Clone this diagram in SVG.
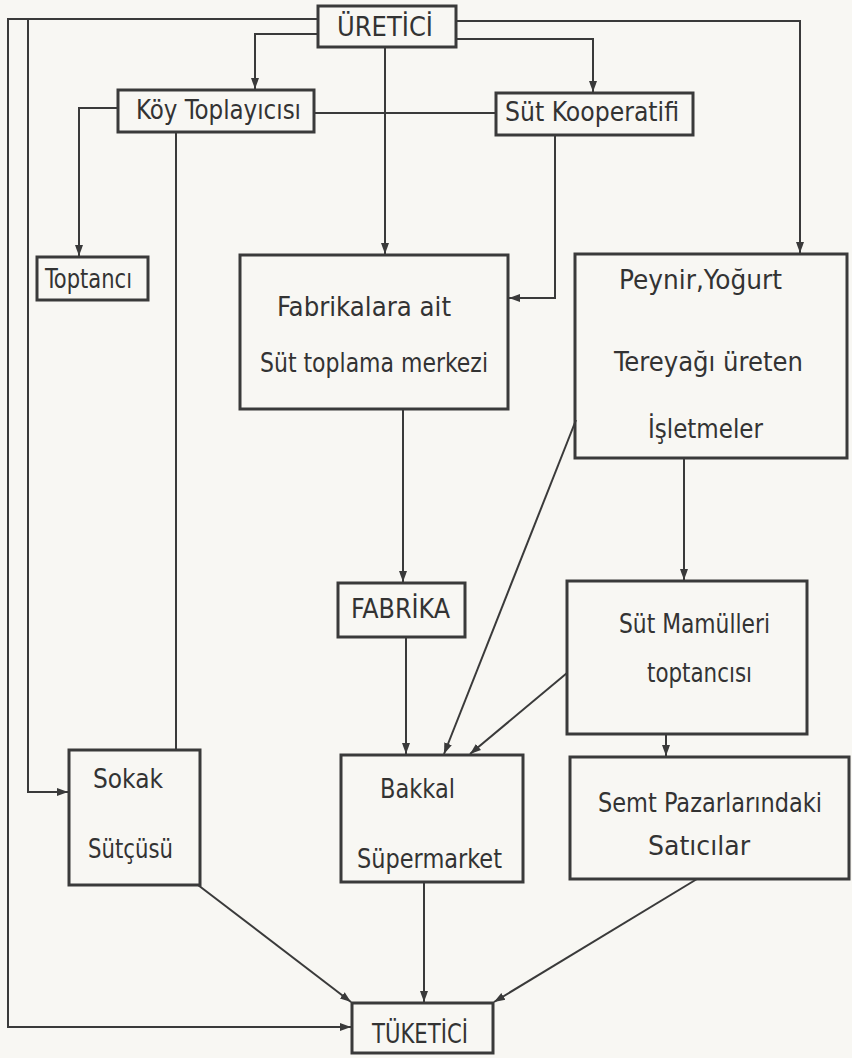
<svg xmlns="http://www.w3.org/2000/svg" width="852" height="1058" viewBox="0 0 852 1058">
<defs>
<marker id="arr" markerUnits="userSpaceOnUse" markerWidth="12" markerHeight="10" refX="11" refY="5" orient="auto">
<path d="M0,1 L11,5 L0,9 Z" fill="#3a3a3a"/>
</marker>
<style>
.box{fill:none;stroke:#3a3a3a;stroke-width:3}
.ln{fill:none;stroke:#3a3a3a;stroke-width:2}
.a{marker-end:url(#arr)}
text{font-family:"DejaVu Sans Condensed","DejaVu Sans","Liberation Sans",sans-serif;font-size:26px;fill:#333}
</style>
</defs>
<rect x="0" y="0" width="852" height="1058" fill="#f8f7f3"/>
<g id="connectors">
<path class="ln a" d="M318,34 H255 V89"/>
<path class="ln a" d="M456,39 H593 V92"/>
<path class="ln a" d="M385,47 V254"/>
<path class="ln a" d="M456,21 H800 V253"/>
<path class="ln a" d="M318,19 H28 V792 H68"/>
<path class="ln a" d="M28,19 H8 V1027 H351"/>
<path class="ln" d="M314,113 H496"/>
<path class="ln a" d="M118,108 H79 V256"/>
<path class="ln" d="M176,132 V750"/>
<path class="ln a" d="M555,135 V298 H509"/>
<path class="ln a" d="M403,409 V582"/>
<path class="ln a" d="M684,458 V580"/>
<path class="ln a" d="M576,420 L444,754"/>
<path class="ln a" d="M567,673 L470,754"/>
<path class="ln a" d="M406,637 V754"/>
<path class="ln a" d="M666,734 V756"/>
<path class="ln a" d="M198,885 L351,1002"/>
<path class="ln a" d="M424,882 V1002"/>
<path class="ln a" d="M697,879 L494,1002"/>
</g>
<g id="uretici"><rect class="box" x="318" y="6" width="138" height="41"/><text x="337" y="36" textLength="96" lengthAdjust="spacingAndGlyphs">ÜRETİCİ</text></g>
<g id="koy"><rect class="box" x="118" y="90" width="196" height="42"/><text x="136" y="119" textLength="165" lengthAdjust="spacingAndGlyphs">Köy Toplayıcısı</text></g>
<g id="kooperatif"><rect class="box" x="496" y="93" width="197" height="42"/><text x="505" y="121" textLength="174" lengthAdjust="spacingAndGlyphs">Süt Kooperatifi</text></g>
<g id="toptanci"><rect class="box" x="37" y="257" width="111" height="43"/><text x="45" y="288" textLength="87" lengthAdjust="spacingAndGlyphs">Toptancı</text></g>
<g id="fabrikalara"><rect class="box" x="240" y="255" width="268" height="154"/><text x="277" y="316" textLength="174" lengthAdjust="spacingAndGlyphs">Fabrikalara ait</text><text x="260" y="372" textLength="228" lengthAdjust="spacingAndGlyphs">Süt toplama merkezi</text></g>
<g id="peynir"><rect class="box" x="575" y="254" width="272" height="204"/><text x="619" y="289" textLength="163" lengthAdjust="spacingAndGlyphs">Peynir,Yoğurt</text><text x="614" y="371" textLength="189" lengthAdjust="spacingAndGlyphs">Tereyağı üreten</text><text x="648" y="438" textLength="115" lengthAdjust="spacingAndGlyphs">İşletmeler</text></g>
<g id="fabrika"><rect class="box" x="338" y="583" width="127" height="54"/><text x="351" y="618" textLength="99" lengthAdjust="spacingAndGlyphs">FABRİKA</text></g>
<g id="sutmamulleri"><rect class="box" x="567" y="581" width="240" height="153"/><text x="619" y="633" textLength="151" lengthAdjust="spacingAndGlyphs">Süt Mamülleri</text><text x="647" y="682" textLength="105" lengthAdjust="spacingAndGlyphs">toptancısı</text></g>
<g id="sokak"><rect class="box" x="69" y="750" width="131" height="135"/><text x="93" y="788" textLength="70" lengthAdjust="spacingAndGlyphs">Sokak</text><text x="88" y="858" textLength="85" lengthAdjust="spacingAndGlyphs">Sütçüsü</text></g>
<g id="bakkal"><rect class="box" x="341" y="755" width="182" height="127"/><text x="380" y="798" textLength="75" lengthAdjust="spacingAndGlyphs">Bakkal</text><text x="357" y="868" textLength="145" lengthAdjust="spacingAndGlyphs">Süpermarket</text></g>
<g id="semt"><rect class="box" x="570" y="757" width="279" height="122"/><text x="598" y="812" textLength="224" lengthAdjust="spacingAndGlyphs">Semt Pazarlarındaki</text><text x="648" y="855" textLength="102" lengthAdjust="spacingAndGlyphs">Satıcılar</text></g>
<g id="tuketici"><rect class="box" x="352" y="1003" width="141" height="50"/><text x="372" y="1043" textLength="96" lengthAdjust="spacingAndGlyphs">TÜKETİCİ</text></g>
</svg>
